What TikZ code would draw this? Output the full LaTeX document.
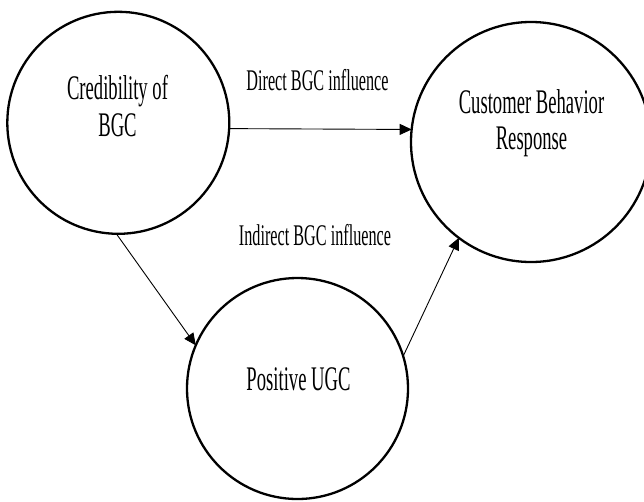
\documentclass[tikz,border=0pt]{standalone}
\usepackage{fontspec}
\setmainfont{Liberation Serif}[FakeStretch=0.54]
\usetikzlibrary{arrows.meta}
\begin{document}
\begin{tikzpicture}[x=1pt,y=-1pt,
  bubble/.style={circle, draw, line width=2.3pt, inner sep=0pt, outer sep=0pt},
  bigtext/.style={font=\fontsize{34.5}{37}\selectfont, align=center, inner sep=0pt},
  edgetext/.style={font=\fontsize{30}{34}\selectfont, inner sep=0pt, anchor=base},
  link/.style={line width=0.9pt, -{Triangle[length=12pt,width=11pt]}}]
\useasboundingbox (0,0) rectangle (644,501);
\node[bubble, minimum size=222pt] (L) at (118.3,122.8) {};
\node[bubble, minimum size=240pt] (R) at (531,142) {};
\node[bubble, minimum size=221pt] (B) at (297.5,388.5) {};
\node[bigtext] (Lt) at (117.5,106) {Credibility of\\BGC};
\node[bigtext, font=\fontsize{34.5}{36}\selectfont] (Rt) at (531.5,123) {Customer Behavior\\Response};
\node[bigtext, anchor=base] (Bt) at (298.5,390) {Positive UGC};
\node[edgetext] (d) at (317.5,90) {Direct BGC influence};
\node[edgetext] (i) at (315,245) {Indirect BGC influence};
\draw[link] (L.-3.7) -- (R.174.3);
\draw[link] (L.-91.7) -- (B.157.9);
\draw[link] (B.17.6) -- (R.-127.4);
\end{tikzpicture}
\end{document}
